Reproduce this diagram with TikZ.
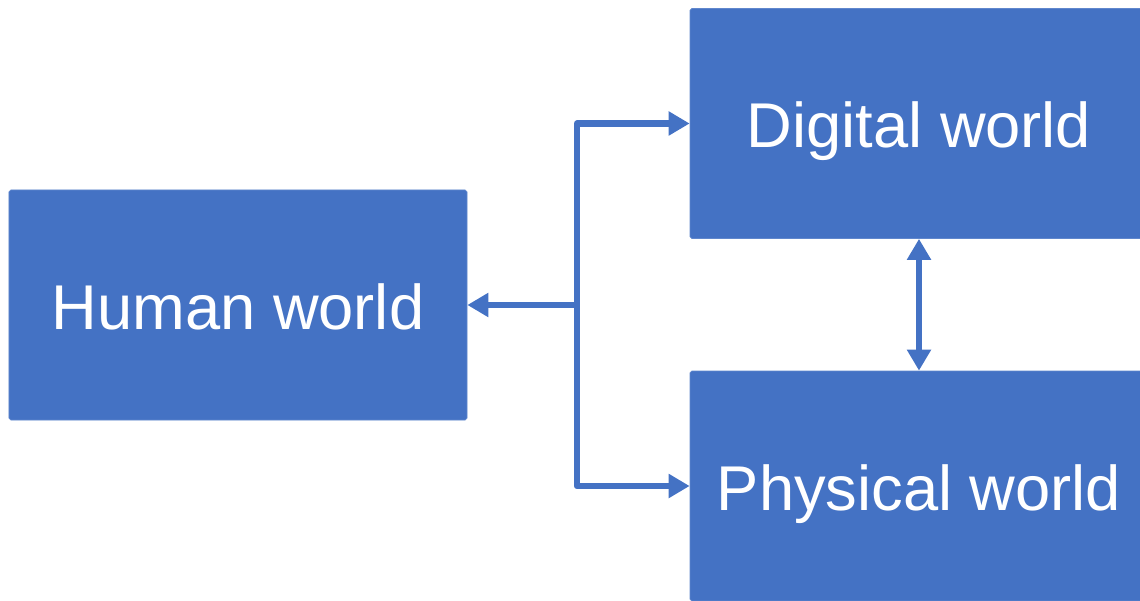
\documentclass[tikz,border=0pt]{standalone}
\usepackage{fontspec}
\setmainfont{Liberation Sans}
\usetikzlibrary{arrows.meta}
\definecolor{boxblue}{HTML}{4472C4}

\begin{document}
\begin{tikzpicture}
  [world/.style={fill=boxblue,draw=boxblue!85!white,line width=0.4pt,
     rounded corners=1pt,minimum width=9.16cm,minimum height=4.6cm,
     text=white,font=\fontsize{36}{40}\selectfont,inner sep=0pt,
     text height=27.5pt,text depth=0pt},
  conn/.style={draw=boxblue,line width=3.6pt,line join=round},
  tip/.style={-{Triangle[length=4.2mm,width=4.6mm]}},
  both/.style={{Triangle[length=4.2mm,width=4.6mm]}-{Triangle[length=4.2mm,width=4.6mm]}}]

  \useasboundingbox (0,0) rectangle (22.8,12);

  \node[world] (human) at (4.76,5.9) {Human world};
  \node[world] (digital) at (18.38,9.53) {Digital world};
  \node[world] (physical) at (18.38,2.28) {Physical world};

  \coordinate (jn) at (11.54,5.9);

  \draw[conn,tip] (jn) -- (human.east);
  \draw[conn,tip] (jn) |- (digital.west);
  \draw[conn,tip] (jn) |- (physical.west);

  \draw[conn,both] (digital.south) -- (physical.north);

\end{tikzpicture}
\end{document}
